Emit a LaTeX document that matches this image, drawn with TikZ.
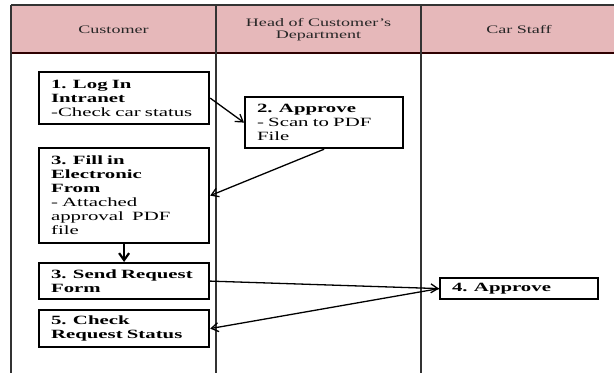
\documentclass[tikz,border=0pt]{standalone}
\usepackage{fontspec}
\setmainfont{Liberation Serif}
\newfontfamily\boxfont{Liberation Serif}[FakeStretch=1.65]
\newfontfamily\headfont{Liberation Serif}[FakeStretch=1.57]
\usetikzlibrary{arrows.meta}
\definecolor{lanepink}{RGB}{230,184,186}
\begin{document}
\begin{tikzpicture}[x=1pt,y=-1pt,
  lane/.style={draw=black!80, line width=1.2pt},
  headtext/.style={font=\headfont\fontsize{11.5}{12.5}\selectfont, align=center, text=black!85},
  stepbox/.style={draw, line width=2.2pt, anchor=north west, inner xsep=12pt, inner ysep=0pt,
    align=left, font=\boxfont\fontsize{12.6}{14}\selectfont},
  widebox/.style={stepbox, text width=146pt},
  narrowbox/.style={stepbox, text width=134pt},
  flow/.style={-{Straight Barb[length=7pt,width=9pt]}, line width=1.3pt},
  down/.style={-{Straight Barb[length=7pt,width=10pt]}, line width=2.2pt}]
\useasboundingbox (0,0) rectangle (614,373);

% swimlane header
\fill[lanepink] (11,5) rectangle (614,53);
\draw[lane] (11,5) -- (614,5);
\draw[draw=black!70!red!60!black, line width=1.2pt] (11,53) -- (614,53);
\draw[lane] (11,5) -- (11,373);
\draw[lane] (216,5) -- (216,373);
\draw[lane] (421,5) -- (421,373);

\node[headtext] (hc) at (113.5,29.5) {Customer};
\node[headtext] (hh) at (318.5,29.5) {Head of Customer’s\\Department};
\node[headtext] (hs) at (519,29.5) {Car Staff};

% steps
\node[widebox, minimum height=52pt] (b1) at (38,71)
  {\textbf{1. Log In}\\\textbf{Intranet}\\-Check car status};
\node[narrowbox, minimum height=51pt] (b2) at (244,96)
  {\textbf{2. Approve}\\- Scan to PDF\\File};
\node[widebox, minimum height=95pt] (b3) at (38,147)
  {\textbf{3. Fill in}\\\textbf{Electronic}\\\textbf{From}\\- Attached\\approval\ \ PDF\\file};
\node[widebox, minimum height=36pt] (bs) at (38,262)
  {\textbf{3. Send Request}\\\textbf{Form}};
\node[narrowbox, minimum height=21pt] (b4) at (439,277)
  {\textbf{4. Approve}};
\node[widebox, minimum height=37pt] (b5) at (38,309)
  {\textbf{5. Check}\\\textbf{Request Status}};

% connectors
\draw[flow] (b1.east) -- (b2.west);
\draw[flow] (b2.south) -- (b3.east);
\draw[down] (b3.south) -- (bs.north);
\draw[flow] (bs.east) -- (b4.west);
\draw[flow] (b4.west) -- (b5.east);
\end{tikzpicture}
\end{document}
